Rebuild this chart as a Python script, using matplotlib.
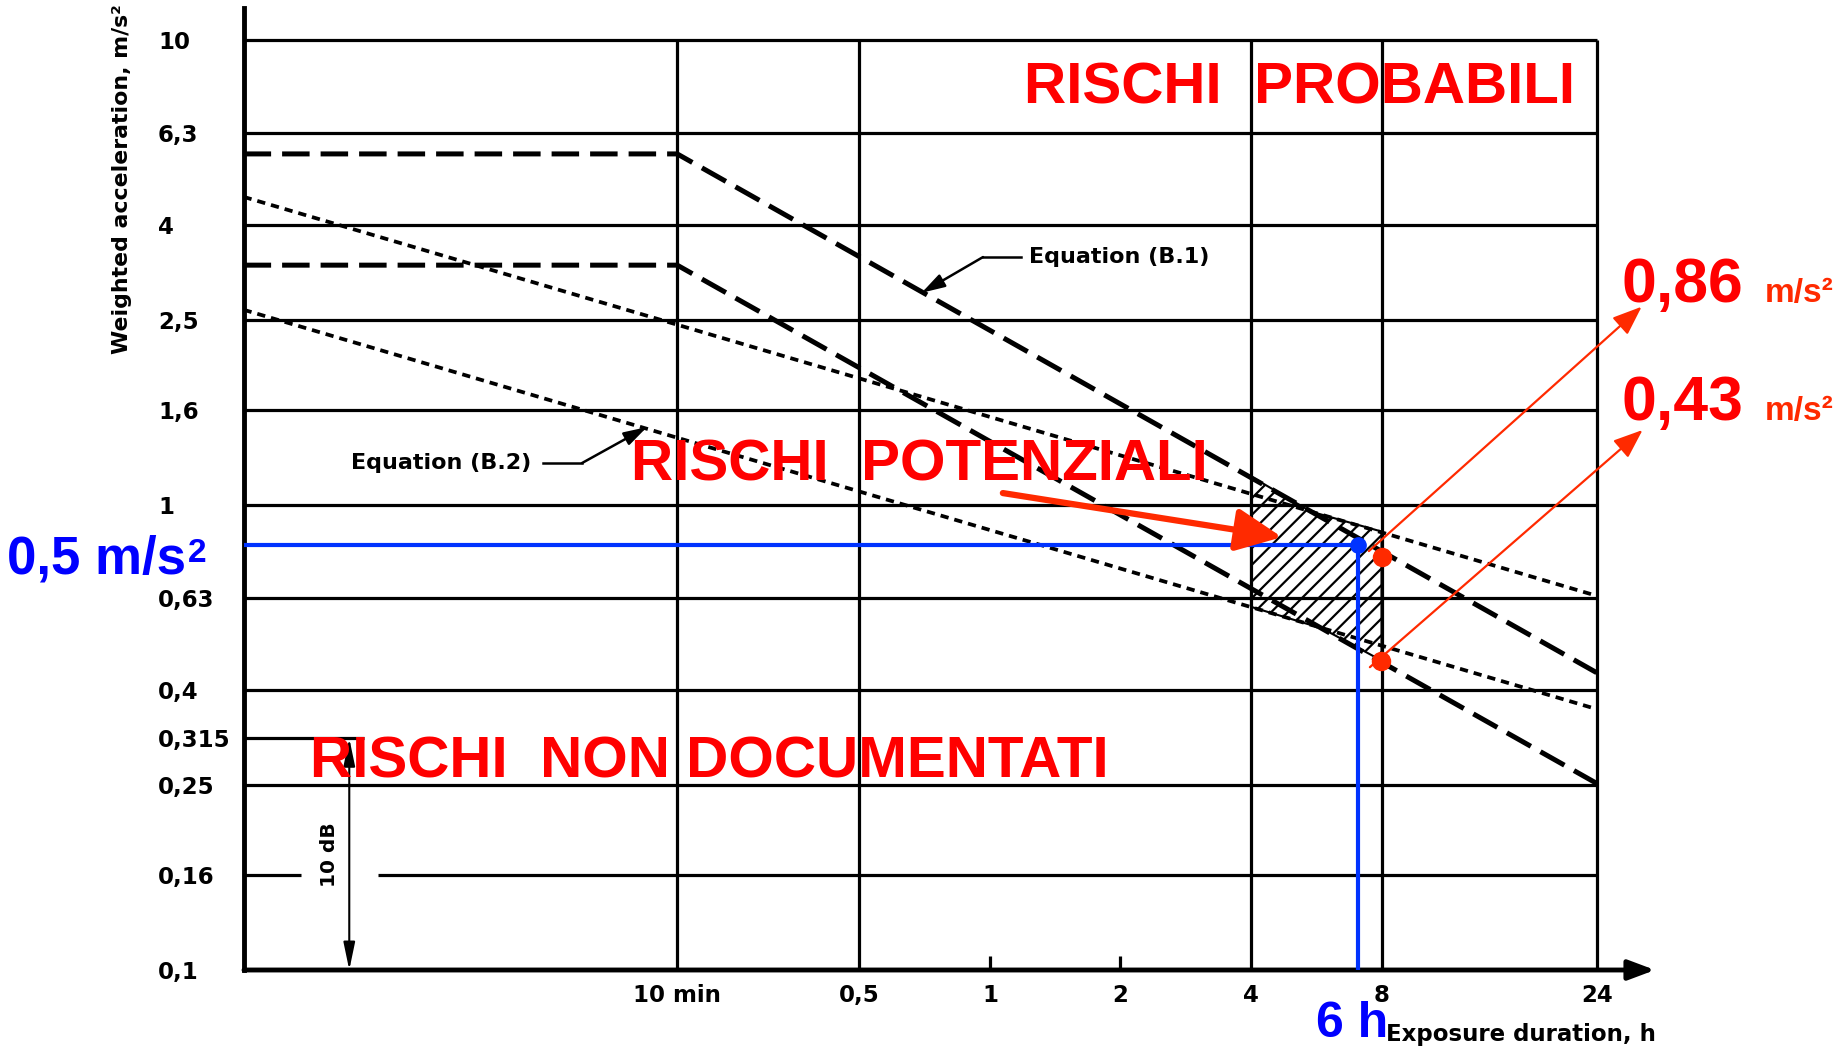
import numpy as np
import matplotlib
matplotlib.use('Agg')
import matplotlib.pyplot as plt
from matplotlib.patches import Polygon

# axes: weighted acceleration (m/s2) vs exposure duration (h), log-log
y_ticks = [10, 6.3, 4, 2.5, 1.6, 1, 0.63, 0.4, 0.315, 0.25, 0.16, 0.1]
y_labels = ['10', '6,3', '4', '2,5', '1,6', '1', '0,63', '0,4', '0,315', '0,25', '0,16', '0,1']
x_ticks = [0.19, 0.5, 1, 2, 4, 8, 25.07]
x_labels = ['10 min', '0,5', '1', '2', '4', '8', '24']
x_grid = [0.19, 0.5, 4, 8, 25.07]
x_short = [1, 2]
y_grid = [10, 6.3, 4, 2.5, 1.6, 1, 0.63, 0.4, 0.25]

# Equation (B.1) - dashed
b1_x = [0.019, 0.19, 25.07]
b1_upper = [5.69, 5.69, 0.436]
b1_lower = [3.28, 3.28, 0.252]
# Equation (B.2) - dotted
b2_x = [0.019, 25.07]
b2_upper = [4.60, 0.638]
b2_lower = [2.63, 0.364]

# hatched caution zone (4 h - 8 h)
zone_x = [4, 5.50, 8, 8, 5.83, 4]
zone_y = [1.152, 0.968, 0.877, 0.463, 0.543, 0.604]

# worked example (blue) and limit points (red)
ex_time = 7.07
ex_acc = 0.82
dots_x = [8.03, 7.98]
dots_y = [0.772, 0.462]
arr_from_x = [7.48, 7.52]
arr_from_y = [0.796, 0.448]
arr_to_x = [31.84, 32.0]
arr_to_y = [2.67, 1.45]

XMIN, XMAX = 0.01904, 34.18
YMIN, YMAX = 0.1, 11.72

W, H = 1840, 1049
RED = '#ff0000'
ORANGE = '#ff2a00'
BLUE = '#0033ff'


def px(x, y):
    return x / W, 1 - y / H


plt.rcParams['hatch.linewidth'] = 1.6
fig = plt.figure(figsize=(W / 100, H / 100), dpi=100)
ax = fig.add_axes([244 / W, 1 - 970 / H, (1655 - 244) / W, (970 - 8) / H])
ax.set_xscale('log')
ax.set_yscale('log')
ax.set_xlim(XMIN, XMAX)
ax.set_ylim(YMIN, YMAX)

for s in ['top', 'right', 'bottom']:
    ax.spines[s].set_visible(False)
ax.spines['left'].set_linewidth(3.5)

tickfont = dict(family='DejaVu Sans', weight='bold', size=16.5)
ax.set_xticks(x_ticks, x_labels)
ax.set_yticks(y_ticks, y_labels)
ax.minorticks_off()
ax.tick_params(length=0)
ax.tick_params(axis='x', pad=10)
ax.tick_params(axis='y', pad=62)
for t in ax.get_xticklabels() + ax.get_yticklabels():
    t.set_fontproperties(matplotlib.font_manager.FontProperties(**tickfont))
for t in ax.get_yticklabels():
    t.set_ha('left')

# grid
ax.hlines(y_grid, XMIN, x_ticks[-1], color='black', lw=2.3, zorder=2)
ax.hlines(0.16, XMIN, 0.02576, color='black', lw=2.3, zorder=2)
ax.hlines(0.16, 0.0387, x_ticks[-1], color='black', lw=2.3, zorder=2)
ax.hlines(0.315, XMIN, 0.036, color='black', lw=2.3, zorder=2)
ax.vlines(x_grid, YMIN, 10, color='black', lw=2.3, zorder=2)
ax.vlines(x_short, YMIN, 0.107, color='black', lw=2.3, zorder=2)

# x axis arrow
ax.annotate('', xy=(XMAX, YMIN), xytext=(XMIN, YMIN),
            arrowprops=dict(arrowstyle='-|>,head_length=0.8,head_width=0.3',
                            mutation_scale=20, lw=3.5, color='black',
                            shrinkA=0, shrinkB=0),
            annotation_clip=False, zorder=3)

# 10 dB arrow
ax.annotate('', xy=(0.0333, 0.1), xytext=(0.0333, 0.315),
            arrowprops=dict(arrowstyle='<|-|>,head_length=1.2,head_width=0.25',
                            mutation_scale=14, lw=1.5, color='black',
                            shrinkA=0, shrinkB=0), zorder=3)
fig.text(*px(330, 855), '10 dB', rotation=90, ha='center', va='center',
         family='DejaVu Sans', weight='bold', fontsize=14.5)

# equation curves
ax.plot(b1_x, b1_upper, color='black', lw=3.6, ls=(0, (5.5, 2.2)), zorder=3)
ax.plot(b1_x, b1_lower, color='black', lw=3.6, ls=(0, (5.5, 2.2)), zorder=3)
ax.plot(b2_x, b2_upper, color='black', lw=2.7, ls=(0, (2.2, 1.6)), zorder=3)
ax.plot(b2_x, b2_lower, color='black', lw=2.7, ls=(0, (2.2, 1.6)), zorder=3)

ax.add_patch(Polygon(np.column_stack([zone_x, zone_y]), closed=True, fill=False,
                     hatch='//', edgecolor='black', lw=1.5, zorder=3))

# equation labels with leaders
eqfont = dict(family='DejaVu Sans', weight='bold', fontsize=16)
fig.text(*px(1029, 257), 'Equation (B.1)', ha='left', va='center', **eqfont)
ax.plot([1.179, 0.9636], [3.414, 3.414], color='black', lw=1.8, zorder=3)
ax.annotate('', xy=(0.696, 2.861), xytext=(0.9636, 3.414),
            arrowprops=dict(arrowstyle='-|>,head_length=1.0,head_width=0.3',
                            mutation_scale=14, lw=1.8, color='black',
                            shrinkA=0, shrinkB=0), zorder=3)
fig.text(*px(351, 463), 'Equation (B.2)', ha='left', va='center', **eqfont)
ax.plot([0.0931, 0.1146], [1.231, 1.231], color='black', lw=1.8, zorder=3)
ax.annotate('', xy=(0.1618, 1.471), xytext=(0.1146, 1.231),
            arrowprops=dict(arrowstyle='-|>,head_length=1.0,head_width=0.3',
                            mutation_scale=14, lw=1.8, color='black',
                            shrinkA=0, shrinkB=0), zorder=3)

# blue example
ax.plot([XMIN, ex_time], [ex_acc, ex_acc], color=BLUE, lw=3, zorder=4)
ax.plot([ex_time, ex_time], [ex_acc, YMIN], color=BLUE, lw=3, zorder=4)
ax.plot(ex_time, ex_acc, 'o', ms=11, color=BLUE, zorder=5)

# red points and arrows
ax.plot(dots_x, dots_y, 'o', ms=13, color=ORANGE, zorder=5)
for x0, y0, x1, y1 in zip(arr_from_x, arr_from_y, arr_to_x, arr_to_y):
    ax.annotate('', xy=(x1, y1), xytext=(x0, y0),
                arrowprops=dict(arrowstyle='-|>,head_length=0.9,head_width=0.35',
                                mutation_scale=20, lw=1.6, color=ORANGE,
                                shrinkA=0, shrinkB=0),
                annotation_clip=False, zorder=5)
ax.annotate('', xy=(4.714, 0.853), xytext=(1.071, 1.061),
            arrowprops=dict(arrowstyle='-|>,head_length=1.4,head_width=0.65',
                            mutation_scale=20, lw=4.5, color=ORANGE,
                            shrinkA=0, shrinkB=0), zorder=6)

# red zone titles
bigfont = dict(family='Liberation Sans', weight='bold', fontsize=42, color=RED, zorder=7)
fig.text(*px(1024, 104), 'RISCHI  PROBABILI', ha='left', va='baseline', **bigfont)
fig.text(*px(631, 481), 'RISCHI  POTENZIALI', ha='left', va='baseline', **bigfont)
fig.text(*px(310, 778), 'RISCHI  NON DOCUMENTATI', ha='left', va='baseline', **bigfont)

valfont = dict(family='Liberation Sans', weight='bold', fontsize=45, color=RED)
unitfont = dict(family='Liberation Sans', weight='bold', fontsize=24, color=ORANGE)
fig.text(*px(1622, 302), '0,86', ha='left', va='baseline', **valfont)
fig.text(*px(1765, 302), 'm/s²', ha='left', va='baseline', **unitfont)
fig.text(*px(1622, 420), '0,43', ha='left', va='baseline', **valfont)
fig.text(*px(1765, 420), 'm/s²', ha='left', va='baseline', **unitfont)

# axis titles
fig.text(*px(122, 354), 'Weighted acceleration, m/s²', rotation=90, ha='center',
         va='bottom', family='DejaVu Sans', weight='bold', fontsize=15.8)
fig.text(*px(1386, 1034), 'Exposure duration, h', ha='left', va='center',
         family='DejaVu Sans', weight='bold', fontsize=16.5)

# blue labels
bluefont = dict(family='Liberation Sans', weight='bold', color='#0000ff', zorder=8)
lbl = fig.text(*px(7, 574), '0,5 m/s', ha='left', va='baseline', fontsize=38, **bluefont)
ax.annotate('2', xy=(1.01, 0.93), xycoords=lbl, ha='left', va='top',
            fontsize=24, **bluefont)
fig.text(*px(1316, 1047), '6 h', ha='left', va='bottom', fontsize=36, **bluefont)

fig.savefig('out.png', dpi=100, facecolor='white')
